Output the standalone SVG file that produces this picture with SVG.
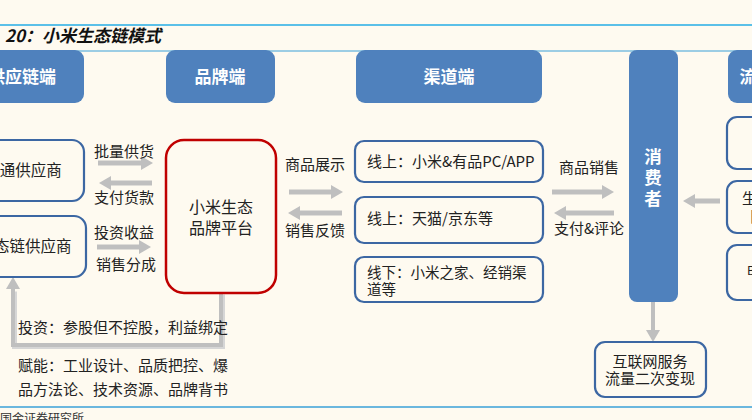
<svg xmlns="http://www.w3.org/2000/svg" width="752" height="420" viewBox="0 0 752 420">
<defs>
<marker id="ah" markerUnits="userSpaceOnUse" markerWidth="12" markerHeight="14" refX="0" refY="7" orient="auto">
<path d="M0,0 L12,7 L0,14 Z" fill="#BFBFBF"/>
</marker>
<style>
text{font-family:"Noto Sans CJK SC","Noto Sans",sans-serif;}
.hdr{fill:#4F81BD;}
.ht{fill:#fff;font-size:17px;font-weight:bold;text-anchor:middle;}
.bx{fill:#FEFAF0;stroke:#3C67A3;stroke-width:2.2;}
.t{fill:#222;font-size:15px;}
.tc{fill:#222;font-size:15px;text-anchor:middle;}
.ar{stroke:#BFBFBF;stroke-width:5;fill:none;marker-end:url(#ah);}
.ln{stroke:#BFBFBF;stroke-width:4;fill:none;}
</style>
</defs>
<rect width="752" height="420" fill="#FEFAF0"/>
<line x1="0" y1="25" x2="752" y2="25" stroke="#5BC0E8" stroke-width="2"/>
<line x1="0" y1="51" x2="752" y2="51" stroke="#3AA0D8" stroke-width="1"/>
<text x="5" y="42" style="font-size:17px;font-style:italic;font-weight:bold;fill:#111;">20：小米生态链模式</text>

<g id="connectors">
<line class="ar" x1="98" y1="163" x2="141" y2="163"/>
<line class="ar" x1="152" y1="183" x2="111" y2="183"/>
<line class="ar" x1="97" y1="247" x2="139" y2="247"/>
<line class="ar" x1="289" y1="192" x2="331" y2="192"/>
<line class="ar" x1="342" y1="213" x2="300" y2="213"/>
<line class="ar" x1="552" y1="192" x2="602" y2="192"/>
<line class="ar" x1="614" y1="213" x2="566" y2="213"/>
<line class="ar" x1="720" y1="201" x2="695" y2="201"/>
<line class="ar" x1="653" y1="302" x2="653" y2="330" style="stroke-width:4"/>
<path d="M221,293 V345 H13 V290" class="ln" style="stroke:#D6D6D6;stroke-width:5" transform="translate(1.5,1.5)"/>
<path d="M221,293 V345 H13 V289" class="ar" style="stroke-width:4"/>
</g>

<g id="hdr-supply"><rect class="hdr" x="-40" y="50" width="124" height="53" rx="9"/><text class="ht" x="22" y="83">供应链端</text></g>
<g id="hdr-brand"><rect class="hdr" x="166" y="50" width="109" height="53" rx="9"/><text class="ht" x="220" y="83">品牌端</text></g>
<g id="hdr-channel"><rect class="hdr" x="356" y="50" width="186" height="53" rx="9"/><text class="ht" x="449" y="83">渠道端</text></g>
<g id="consumer"><rect class="hdr" x="629" y="50" width="49" height="252" rx="8"/>
<text class="ht" x="653" y="163" style="font-size:17.5px">消</text>
<text class="ht" x="653" y="184" style="font-size:17.5px">费</text>
<text class="ht" x="653" y="205" style="font-size:17.5px">者</text></g>
<g id="hdr-traffic"><rect class="hdr" x="728" y="50" width="80" height="53" rx="9"/><text class="ht" x="748" y="83">流</text></g>

<g id="sup1"><rect class="bx" x="-40" y="140" width="124" height="61" rx="12"/><text class="tc" x="23" y="176" style="font-size:15.5px">普通供应商</text></g>
<g id="sup2"><rect class="bx" x="-40" y="216" width="126" height="61" rx="12"/><text class="tc" x="25" y="252" style="font-size:15.5px">生态链供应商</text></g>

<g id="lbl-left">
<text class="tc" x="124" y="157">批量供货</text>
<text class="tc" x="124" y="203">支付货款</text>
<text class="tc" x="124" y="238">投资收益</text>
<text class="tc" x="126" y="270">销售分成</text>
</g>

<g id="brand"><rect x="166" y="140" width="110" height="153" rx="18" fill="#FEFAF0" stroke="#C00000" stroke-width="2.5"/>
<text class="tc" x="221" y="213" style="font-size:16px">小米生态</text>
<text class="tc" x="221" y="234" style="font-size:16px">品牌平台</text></g>

<g id="lbl-mid">
<text class="tc" x="315" y="170">商品展示</text>
<text class="tc" x="315" y="236">销售反馈</text>
</g>

<g id="ch1"><rect class="bx" x="355" y="141" width="188" height="41" rx="9"/><text class="t" x="367" y="167">线上：小米&amp;有品PC/APP</text></g>
<g id="ch2"><rect class="bx" x="355" y="197" width="188" height="46" rx="9"/><text class="t" x="367" y="224">线上：天猫/京东等</text></g>
<g id="ch3"><rect class="bx" x="355" y="257" width="188" height="45" rx="9"/><text class="t" x="367" y="278" style="font-size:14.5px">线下：小米之家、经销渠</text><text class="t" x="367" y="295" style="font-size:14.5px">道等</text></g>

<g id="lbl-right">
<text class="tc" x="589" y="173">商品销售</text>
<text class="tc" x="589" y="234">支付&amp;评论</text>
</g>

<g id="r1"><rect class="bx" x="727" y="117" width="80" height="52" rx="10"/></g>
<g id="r2"><rect class="bx" x="727" y="181" width="80" height="52" rx="10"/><text class="t" x="742" y="204">生</text><text class="t" x="749" y="222">日</text></g>
<g id="r3"><rect class="bx" x="727" y="245" width="80" height="55" rx="10"/><text class="t" x="747" y="275" style="font-size:12px">B</text></g>

<g id="internet"><rect class="bx" x="595" y="342" width="111" height="55" rx="10"/>
<text class="tc" x="650" y="367">互联网服务</text>
<text class="tc" x="650" y="384">流量二次变现</text></g>

<g id="notes">
<text class="t" x="18" y="333">投资：参股但不控股，利益绑定</text>
<text class="t" x="18" y="371">赋能：工业设计、品质把控、爆</text>
<text class="t" x="18" y="395">品方法论、技术资源、品牌背书</text>
</g>
<line x1="0" y1="407" x2="752" y2="407" stroke="#3AA0D8" stroke-width="1.5"/>
<text x="0" y="423" style="font-size:12px;fill:#333;">国金证券研究所</text>
</svg>
